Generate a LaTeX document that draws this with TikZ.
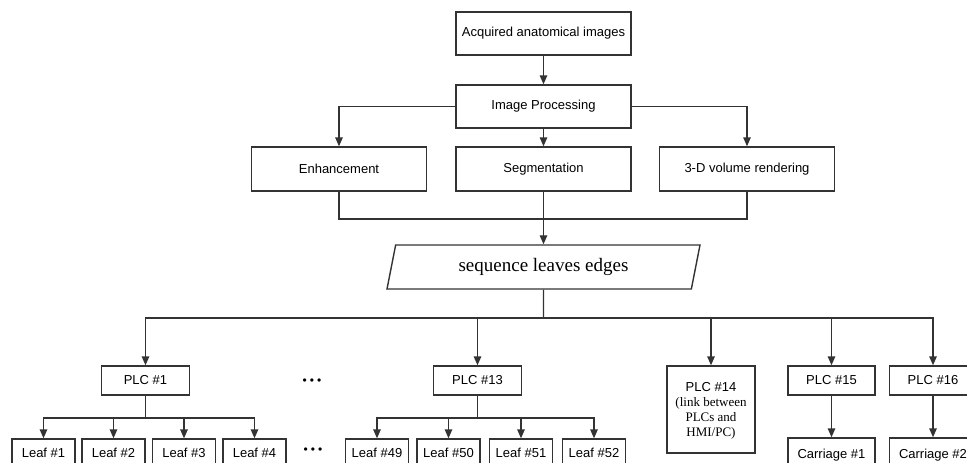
\documentclass[tikz,border=0pt]{standalone}
\usepackage{fontspec}
\setmainfont{Liberation Sans}
\newfontfamily\seriffont{Liberation Serif}
\usepackage{tikz}
\usetikzlibrary{arrows.meta,positioning,calc,shapes.geometric}

\begin{document}
\begin{tikzpicture}[
  x=1pt, y=-1pt,
  procblock/.style={draw=black!80, line width=1.4pt, minimum width=175pt, minimum height=43pt, inner sep=0pt, align=center, font=\fontsize{13}{15}\selectfont},
  plcblock/.style={draw=black!80, line width=1.4pt, minimum width=88pt, minimum height=29pt, inner sep=0pt, align=center, font=\fontsize{13}{15}\selectfont},
  leafblock/.style={draw=black!80, line width=1.4pt, minimum width=63pt, minimum height=28pt, inner sep=0pt, align=center, font=\fontsize{13}{15}\selectfont},
  seqblock/.style={draw=black!80, line width=1.4pt, trapezium, trapezium left angle=63.4, trapezium right angle=116.6, trapezium stretches body, minimum width=313pt, minimum height=44pt, inner sep=0pt, font=\seriffont\fontsize{19}{22}\selectfont},
  dots/.style={font=\fontsize{12}{12}\selectfont},
  link/.style={draw=black!80, line width=1.4pt},
  arrow/.style={link, -{Triangle[width=7.5pt,length=9pt]}}
]
  \useasboundingbox (0,0) rectangle (967,463);
  \clip (0,0) rectangle (967,463);

  % Image processing chain
  \node[procblock] (acq) at (543.5, 33.5) {Acquired anatomical images};
  \node[procblock] (proc) at (543.5, 106.5) {Image Processing};
  \node[procblock, minimum height=44pt] (enh) at (339, 169) {Enhancement};
  \node[procblock, minimum height=44pt] (seg) at (543.5, 169) {Segmentation};
  \node[procblock, minimum height=44pt] (vol) at (747, 169) {3-D volume rendering};
  \node[seqblock] (seq) at (543.5, 267) {sequence leaves edges};
  \draw[arrow] (acq) -- (proc);
  \draw[arrow] (proc) -- (seg);
  \draw[arrow] (proc.west) -| (enh.north);
  \draw[arrow] (proc.east) -| (vol.north);
  \coordinate (join) at (543.5, 219);
  \draw[link] (enh.south) |- (join) -| (vol.south);
  \draw[arrow] (seg) -- (seq);

  % PLC level
  \node[plcblock] (plc1) at (145.5, 380.5) {PLC \#1};
  \node[dots] (dots1) at (312, 382) {\textbullet\hspace{3pt}\textbullet\hspace{3pt}\textbullet};
  \node[plcblock] (plc13) at (477.5, 380.5) {PLC \#13};
  \node[plcblock, minimum height=87pt, text depth=0pt] (plc14) at (711, 409.5) {PLC \#14\\\seriffont (link between\\\seriffont PLCs and\\\seriffont HMI/PC)};
  \node[plcblock, minimum width=87pt] (plc15) at (831.5, 380.5) {PLC \#15};
  \node[plcblock, minimum width=87pt] (plc16) at (933, 380.5) {PLC \#16};
  \coordinate (split) at (543.5, 318);
  \draw[link] (seq.south) -- (split);
  \foreach \p in {plc1, plc13, plc14, plc15, plc16}
    \draw[arrow] (split) -| (\p.north);

  % Leaves and carriages
  \foreach \x [count=\i] in {43.5, 113.5, 184, 254.5}
    \node[leafblock] (leaf\i) at (\x, 453) {Leaf \#\i};
  \node[dots] (dots2) at (313, 451) {\textbullet\hspace{3pt}\textbullet\hspace{3pt}\textbullet};
  \foreach \x [count=\i from 49] in {377, 448.5, 521, 594}
    \node[leafblock] (leaf\i) at (\x, 453) {Leaf \#\i};
  \node[leafblock, minimum width=87pt, minimum height=34pt] (car1) at (831.5, 455) {Carriage \#1};
  \node[leafblock, minimum width=87pt, minimum height=34pt] (car2) at (933, 455) {Carriage \#2};

  \coordinate (busa) at (145.5, 418);
  \coordinate (busb) at (477.5, 418);
  \draw[link] (plc1) -- (busa);
  \draw[link] (plc13) -- (busb);
  \foreach \i in {1,...,4}
    \draw[arrow] (busa) -| (leaf\i.north);
  \foreach \i in {49,...,52}
    \draw[arrow] (busb) -| (leaf\i.north);
  \draw[arrow] (plc15) -- (car1);
  \draw[arrow] (plc16) -- (car2);
\end{tikzpicture}
\end{document}
